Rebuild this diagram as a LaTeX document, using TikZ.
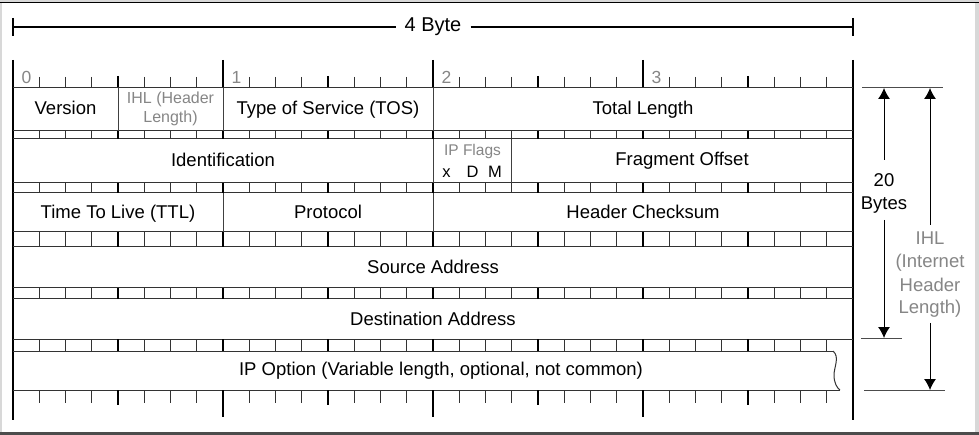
\documentclass[tikz,border=0pt]{standalone}
\usepackage{fontspec}
\setmainfont{Liberation Sans}
\usetikzlibrary{arrows.meta}
\definecolor{rulegray}{HTML}{333333}
\definecolor{labelgray}{HTML}{868686}
\definecolor{framegray}{HTML}{D8D8D8}
\begin{document}
\begin{tikzpicture}[x=1pt,y=-1pt,
  lbl/.style={inner sep=0pt, anchor=base, font=\fontsize{18.5}{21}\selectfont},
  glbl/.style={inner sep=0pt, anchor=base, font=\fontsize{16}{19}\selectfont, text=labelgray},
  flagbit/.style={inner sep=0pt, anchor=base, font=\fontsize{16.5}{19}\selectfont},
  edge/.style={line width=1.6pt, black},
  hline/.style={line width=1pt, rulegray},
  sep/.style={line width=0.9pt, black!75},
  tick/.style={line width=0.8pt, rulegray},
  major/.style={line width=1.8pt, black},
  dim/.style={line width=1pt, black!70},
  arr/.style={-{Latex[length=11pt,width=12pt]}, line width=1pt, black}]
\useasboundingbox (0,0) rectangle (979,435);

% page frame
\fill[framegray] (0,0) rectangle (979,435);
\fill[white] (1.5,3) rectangle (975,432);
\draw[line width=1pt, black] (0,2.7) -- (979,2.7);
\fill[black!70] (0,432) rectangle (979,435);

% width ruler above the header
\coordinate (rl) at (13,27);
\coordinate (rr) at (853,27);
\node[lbl, font=\fontsize{20}{23}\selectfont] (width) at (433,31.7) {4 Byte};
\draw[edge] (13,18) -- (13,36);
\draw[edge] (853,18) -- (853,36);
\draw[line width=1.3pt] (rl) -- ([xshift=-8pt]width.west |- rl);
\draw[line width=1.3pt] ([xshift=9pt]width.east |- rr) -- (rr);

% outer vertical edges of the header
\draw[edge] (13,60) -- (13,420);
\draw[edge] (853,60) -- (853,420);

% bit scale on top
\foreach \i in {1,...,31} {
  \pgfmathtruncatemacro\m{mod(\i,8)}
  \pgfmathtruncatemacro\n{mod(\i,4)}
  \ifnum\m=0
    \draw[major] (13+26.25*\i,60) -- (13+26.25*\i,88);
  \else\ifnum\n=0
    \draw[major] (13+26.25*\i,76) -- (13+26.25*\i,88);
  \else
    \draw[tick] (13+26.25*\i,77) -- (13+26.25*\i,88);
  \fi\fi
}
\foreach \k in {0,1,2,3} {
  \node[glbl, anchor=base west, font=\fontsize{17.5}{20}\selectfont] (byte\k) at (13+210*\k+8.5,83.3) {\k};
}

% first row top line
\draw[hline] (13,88) -- (853,88);

% tick strips between the rows
\foreach \t/\b/\e in {131/139/853, 183/193/853, 232/247/853, 288/299/853, 339/351/833} {
  \draw[hline] (13,\t) -- (853,\t);
  \draw[hline] (13,\b) -- (\e,\b);
  \foreach \i in {1,...,31} {
    \pgfmathtruncatemacro\n{mod(\i,4)}
    \ifnum\n=0
      \draw[major] (13+26.25*\i,\t) -- (13+26.25*\i,\b);
    \else
      \draw[tick] (13+26.25*\i,\t) -- (13+26.25*\i,\b);
    \fi
  }
}

% options row: open (torn) right end
\draw[hline] (13,390) -- (840,390);
\draw[hline] (833,351) .. controls (840,357) and (834,367) .. (834,375)
                       .. controls (834,383) and (837,388) .. (840,390);

% bit scale at the bottom
\foreach \i in {1,...,31} {
  \pgfmathtruncatemacro\m{mod(\i,8)}
  \pgfmathtruncatemacro\n{mod(\i,4)}
  \ifnum\m=0
    \draw[major] (13+26.25*\i,390) -- (13+26.25*\i,417);
  \else\ifnum\n=0
    \draw[major] (13+26.25*\i,390) -- (13+26.25*\i,405);
  \else
    \draw[tick] (13+26.25*\i,390) -- (13+26.25*\i,403);
  \fi\fi
}

% field separators
\draw[sep] (118,88) -- (118,131);
\draw[sep] (223,88) -- (223,131);
\draw[sep] (433,88) -- (433,131);
\draw[sep] (433,139) -- (433,183);
\draw[sep] (511.75,139) -- (511.75,183);
\draw[sep] (223,193) -- (223,232);
\draw[sep] (433,193) -- (433,232);

% field names
\node[lbl] (version) at (65.5,115) {Version};
\node[glbl] (ihl1) at (170.5,103.3) {IHL (Header};
\node[glbl] (ihl2) at (170.5,122.7) {Length)};
\node[lbl] (tos) at (328,114.5) {Type of Service (TOS)};
\node[lbl] (total) at (643,114.5) {Total Length};

\node[lbl] (ident) at (223,166.5) {Identification};
\node[glbl, font=\fontsize{15.5}{18}\selectfont] (flags) at (472.5,156) {IP Flags};
\node[flagbit] (fx) at (446.5,177.3) {x};
\node[flagbit] (fd) at (472.5,177.3) {D};
\node[flagbit] (fm) at (495,177.3) {M};
\node[lbl] (frag) at (682,166) {Fragment Offset};

\node[lbl] (ttl) at (118,218.3) {Time To Live (TTL)};
\node[lbl] (proto) at (328,218.3) {Protocol};
\node[lbl] (chk) at (643,218.3) {Header Checksum};

\node[lbl] (src) at (433,273.3) {Source Address};
\node[lbl] (dst) at (433,325.5) {Destination Address};
\node[lbl] (opt) at (441,375.5) {IP Option (Variable length, optional, not common)};

% size annotations on the right
\draw[dim] (862,88) -- (943,88);
\draw[dim] (861,338) -- (902,338);
\draw[dim] (864,390) -- (945,390);

\coordinate (t1) at (884,88);
\coordinate (b1) at (884,338);
\coordinate (a1u) at (884,160);
\coordinate (a1d) at (884,220);
\node[lbl] (n20) at (884,186.7) {20};
\node[lbl] (nbytes) at (884,210) {Bytes};
\draw[arr] (a1u) -- (t1);
\draw[arr] (a1d) -- (b1);

\coordinate (t2) at (930,88);
\coordinate (b2) at (930,390);
\coordinate (a2u) at (930,225);
\coordinate (a2d) at (930,323);
\node[lbl, text=labelgray] (ihla) at (930,245) {IHL};
\node[lbl, text=labelgray] (ihlb) at (930,267.3) {(Internet};
\node[lbl, text=labelgray] (ihlc) at (930,291.7) {Header};
\node[lbl, text=labelgray] (ihld) at (930,314) {Length)};
\draw[arr] (a2u) -- (t2);
\draw[arr] (a2d) -- (b2);
\end{tikzpicture}
\end{document}
